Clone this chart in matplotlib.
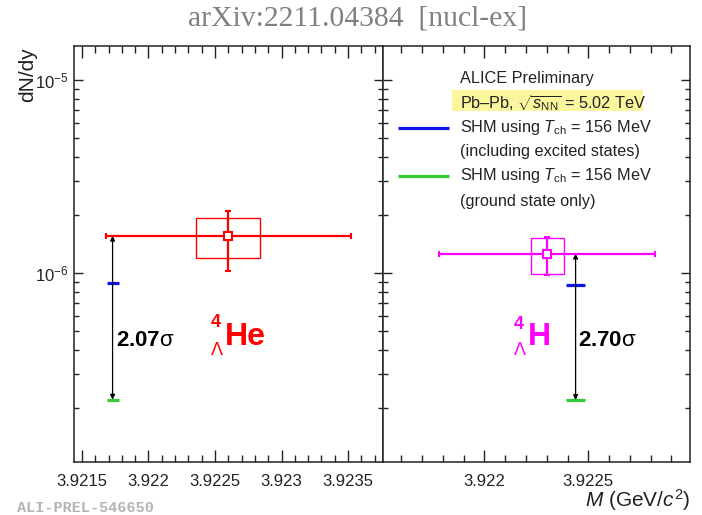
import numpy as np
import matplotlib
matplotlib.use('Agg')
import matplotlib.pyplot as plt
from matplotlib.patches import Rectangle

plt.rcParams['font.family'] = ['Liberation Sans', 'DejaVu Sans']
plt.rcParams['mathtext.fontset'] = 'custom'
plt.rcParams['mathtext.rm'] = 'Liberation Sans'
plt.rcParams['mathtext.it'] = 'Liberation Sans:italic'
plt.rcParams['mathtext.bf'] = 'Liberation Sans:bold'
plt.rcParams['mathtext.sf'] = 'Liberation Sans'
plt.rcParams['text.color'] = '#222222'
plt.rcParams['xtick.color'] = '#222222'
plt.rcParams['ytick.color'] = '#222222'

# ---- данные ----
# 4_Lambda He: масса, выход, стат. и сист. неопределённости
he_mass = [3.92260]
he_yield = [1.56e-6]
he_mass_err = [0.00092]
he_yield_err_lo = [0.54e-6]
he_yield_err_hi = [0.53e-6]
he_sys_mass = [0.00024]
he_sys_lo = [1.19e-6]
he_sys_hi = [1.92e-6]

# 4_Lambda H
h_mass = [3.922303]
h_yield = [1.26e-6]
h_mass_err = [0.00052]
h_yield_err_lo = [0.28e-6]
h_yield_err_hi = [0.285e-6]
h_sys_mass = [0.000079]
h_sys_lo = [0.99e-6]
h_sys_hi = [1.51e-6]

# SHM предсказания: [excited states, ground state only]
shm_he_mass = 3.92173
shm_he = [8.84e-7, 2.21e-7]
shm_h_mass = 3.922439
shm_h = [8.7e-7, 2.2e-7]
shm_halfwidth = 0.000045

sigma_labels = ['2.07', '2.70']

SHM_COLORS = ['#0a14e6', '#33cc33']
YLIM = (1.05e-7, 1.5e-5)

fig = plt.figure(figsize=(7.02, 5.15), dpi=100)
ax1 = fig.add_axes([0.1054, 0.1029, 0.4397, 0.8078])
ax2 = fig.add_axes([0.5452, 0.1029, 0.4377, 0.8078])


def style_axes(ax, xlim, major, labels_y):
    ax.set_yscale('log')
    ax.set_ylim(*YLIM)
    ax.set_xlim(*xlim)
    ax.xaxis.set_major_locator(matplotlib.ticker.MultipleLocator(major))
    ax.xaxis.set_minor_locator(matplotlib.ticker.MultipleLocator(0.0001))
    ax.xaxis.set_major_formatter(matplotlib.ticker.FuncFormatter(
        lambda v, p: f'{v:.4f}'.rstrip('0')))
    ax.tick_params(axis='x', which='major', direction='in', top=True,
                   length=8.6, width=1, labelsize=12, pad=8.5)
    ax.tick_params(axis='x', which='minor', direction='in', top=True,
                   length=5, width=1)
    ax.tick_params(axis='y', which='major', direction='in', right=True,
                   length=6.5, width=1, labelsize=12, pad=4,
                   labelleft=labels_y)
    ax.tick_params(axis='y', which='minor', direction='in', right=True,
                   length=3.6, width=1, labelleft=False)
    for s in ax.spines.values():
        s.set_linewidth(1.1)
        s.set_color('#222222')


def draw_panel(ax, m, y, merr, ylo, yhi, smass, slo, shi, color,
               shm_m, shm, sig):
    for i in range(len(m)):
        ax.add_patch(Rectangle((m[i] - smass[i], slo[i]), 2 * smass[i],
                               shi[i] - slo[i], fill=False,
                               edgecolor=color, linewidth=1.0))
    ax.errorbar(m, y, xerr=merr, yerr=[ylo, yhi], fmt='s', color=color,
                mfc='white', mec=color, ms=6, mew=1.5, elinewidth=1.6,
                capsize=2.2, capthick=1.6, zorder=4)
    for val, c in zip(shm, SHM_COLORS):
        ax.plot([shm_m - shm_halfwidth, shm_m + shm_halfwidth], [val, val],
                color=c, lw=2.3, solid_capstyle='butt', zorder=3)
    ax.annotate('', xy=(shm_m, shm[1]), xytext=(shm_m, y[0]),
                arrowprops=dict(arrowstyle='<|-|>', color='black', lw=0.9,
                                mutation_scale=7, shrinkA=0, shrinkB=0))


style_axes(ax1, (3.92144, 3.92376), 0.0005, True)
style_axes(ax2, (3.92151, 3.92299), 0.0005, False)

draw_panel(ax1, he_mass, he_yield, he_mass_err, he_yield_err_lo,
           he_yield_err_hi, he_sys_mass, he_sys_lo, he_sys_hi, '#ff0000',
           shm_he_mass, shm_he, sigma_labels[0])
draw_panel(ax2, h_mass, h_yield, h_mass_err, h_yield_err_lo,
           h_yield_err_hi, h_sys_mass, h_sys_lo, h_sys_hi, '#ff00ff',
           shm_h_mass, shm_h, sigma_labels[1])

# подписи значимости
ax1.text(0.137, 0.293, rf'$\mathbf{{{sigma_labels[0]}}}$σ', transform=ax1.transAxes,
         fontsize=16, va='center', ha='left', color='black')
ax2.text(0.636, 0.293, rf'$\mathbf{{{sigma_labels[1]}}}$σ', transform=ax2.transAxes,
         fontsize=16, va='center', ha='left', color='black')

# названия гиперядер
ax1.text(0.489, 0.300, 'He', transform=ax1.transAxes, fontsize=23,
         fontweight='bold', color='#ff0000', va='center', ha='left')
ax1.text(0.458, 0.336, '4', transform=ax1.transAxes, fontsize=13,
         fontweight='bold', color='#ff0000', va='center', ha='center')
ax1.text(0.462, 0.269, 'Λ', transform=ax1.transAxes, fontsize=13,
         color='#ff0000', va='center', ha='center')
ax2.text(0.473, 0.300, 'H', transform=ax2.transAxes, fontsize=23,
         fontweight='bold', color='#ff00ff', va='center', ha='left')
ax2.text(0.442, 0.331, '4', transform=ax2.transAxes, fontsize=13,
         fontweight='bold', color='#ff00ff', va='center', ha='center')
ax2.text(0.446, 0.269, 'Λ', transform=ax2.transAxes, fontsize=13,
         color='#ff00ff', va='center', ha='center')

# легенда
lx = 0.2515
ax2.add_patch(Rectangle((0.2245, 0.844), 0.6215, 0.050, transform=ax2.transAxes,
                        facecolor='#fbf59e', edgecolor='none', zorder=1))
leg_lines = ['ALICE Preliminary',
             r'Pb–Pb, $\sqrt{s_{\rm NN}}$ = 5.02 TeV',
             r'SHM using $T_{\rm ch}$ = 156 MeV',
             '(including excited states)',
             r'SHM using $T_{\rm ch}$ = 156 MeV',
             '(ground state only)']
leg_y = [0.9207, 0.8637, 0.8029, 0.7459, 0.6875, 0.6257]
for t, yy in zip(leg_lines, leg_y):
    ax2.text(lx, yy, t, transform=ax2.transAxes, fontsize=11.7,
             va='center', ha='left', color='#222222', zorder=2)
for c, yy in zip(SHM_COLORS, [leg_y[2], leg_y[4]]):
    ax2.plot([0.0488, 0.2167], [yy, yy], transform=ax2.transAxes, color=c,
             lw=2.3, solid_capstyle='butt')

fig.text(0.040, 0.909, 'dN/dy', rotation=90, fontsize=15, ha='center', va='top')
fig.text(0.983, 0.029, r'$M$ (GeV/$c^{2}$)', fontsize=15, ha='right', va='center')
fig.text(0.51, 0.965, 'arXiv:2211.04384  [nucl-ex]', fontsize=21.3,
         family='Liberation Serif', color='#808080', ha='center', va='center')
fig.text(0.024, 0.0136, 'ALI-PREL-546650', fontsize=10.9, family='Liberation Mono',
         fontweight='bold', color='#b4b4b4', ha='left', va='center')

fig.savefig('out.png', dpi=100)
